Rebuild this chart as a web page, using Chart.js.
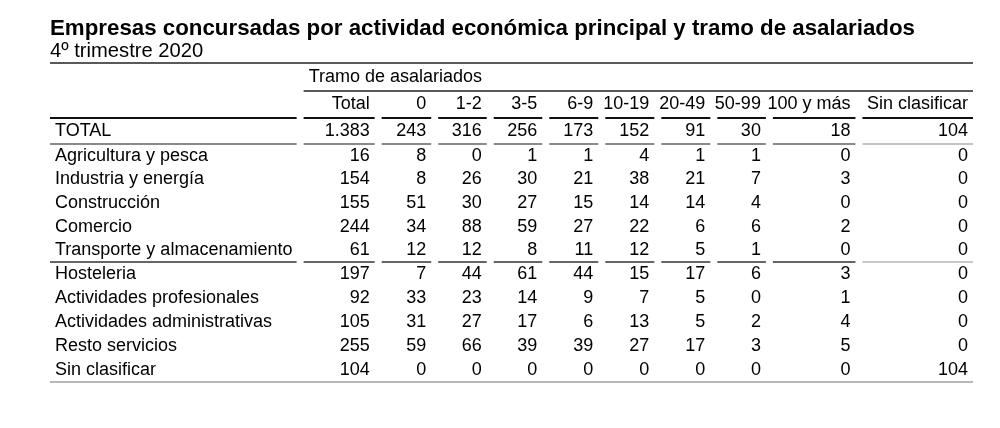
<!DOCTYPE html>
<html>
<head>
<meta charset="utf-8">
<script src="https://cdn.jsdelivr.net/npm/chart.js@4.4.1/dist/chart.umd.min.js"></script>
<style>
  body { margin: 0; background: #fff; }
  #caja { width: 1000px; height: 428px; }
</style>
</head>
<body>
<div id="caja"><canvas id="tabla"></canvas></div>
<script>
// datos de la tabla
var tramoTitulo = 'Tramo de asalariados';
var columnas = ['Total', '0', '1-2', '3-5', '6-9', '10-19', '20-49', '50-99', '100 y más', 'Sin clasificar'];
var actividades = ['TOTAL', 'Agricultura y pesca', 'Industria y energía', 'Construcción', 'Comercio',
  'Transporte y almacenamiento', 'Hosteleria', 'Actividades profesionales',
  'Actividades administrativas', 'Resto servicios', 'Sin clasificar'];

var total     = [1383, 16, 154, 155, 244, 61, 197, 92, 105, 255, 104];
var tramo0    = [243, 8, 8, 51, 34, 12, 7, 33, 31, 59, 0];
var tramo1_2  = [316, 0, 26, 30, 88, 12, 44, 23, 27, 66, 0];
var tramo3_5  = [256, 1, 30, 27, 59, 8, 61, 14, 17, 39, 0];
var tramo6_9  = [173, 1, 21, 15, 27, 11, 44, 9, 6, 39, 0];
var tramo10_19 = [152, 4, 38, 14, 22, 12, 15, 7, 13, 27, 0];
var tramo20_49 = [91, 1, 21, 14, 6, 5, 17, 5, 5, 17, 0];
var tramo50_99 = [30, 1, 7, 4, 6, 1, 6, 0, 2, 3, 0];
var tramo100  = [18, 0, 3, 0, 2, 0, 3, 1, 4, 5, 0];
var sinClasif = [104, 0, 0, 0, 0, 0, 0, 0, 0, 0, 104];

var valores = [total, tramo0, tramo1_2, tramo3_5, tramo6_9, tramo10_19, tramo20_49,
  tramo50_99, tramo100, sinClasif];

//======================================================
// maquetacion (anchos de columna y altos de fila, en unidades de escala)
var anchos = [250, 78, 56.5, 55.5, 55.5, 56, 56, 56, 55.5, 89.5, 117.5];
var altos = [28, 27, 26, 23.6, 23.6, 23.6, 23.6, 23.6, 24, 24, 24, 24, 24];

var bordesX = [0];
anchos.forEach(function (a, i) { bordesX.push(bordesX[i] + a); });
var bordesY = [0];
altos.forEach(function (a, i) { bordesY.push(bordesY[i] + a); });
function centroFila(i) { return (bordesY[i] + bordesY[i + 1]) / 2; }

function fmt(n) {
  return String(n).replace(/\B(?=(\d{3})+(?!\d))/g, '.');
}

var familia = '"Liberation Sans", Arial, sans-serif';
var fuente = '18px ' + familia;

var datasets = valores.map(function (serie, c) {
  return {
    label: columnas[c],
    data: serie.map(function (v, r) {
      return { x: bordesX[c + 2], y: centroFila(r + 2), v: v };
    }),
    pointRadius: 0,
    pointHoverRadius: 0
  };
});

function linea(ctx, x1, x2, y, color, ancho) {
  ctx.strokeStyle = color;
  ctx.lineWidth = ancho;
  ctx.beginPath();
  ctx.moveTo(x1, y);
  ctx.lineTo(x2, y);
  ctx.stroke();
}

function segmentos(ctx, sx, y, color, ancho, colorUltimo) {
  for (var c = 0; c < anchos.length; c++) {
    var x1 = sx.getPixelForValue(bordesX[c]) + (c === 0 ? 0 : 3.5);
    var x2 = sx.getPixelForValue(bordesX[c + 1]) - 3.5;
    var col = (c === anchos.length - 1 && colorUltimo) ? colorUltimo : color;
    linea(ctx, x1, x2, y, col, ancho);
  }
}

var dibujaTabla = {
  id: 'dibujaTabla',
  afterDatasetsDraw: function (chart) {
    var ctx = chart.ctx;
    var sx = chart.scales.x, sy = chart.scales.y;
    var izq = sx.getPixelForValue(0), der = sx.getPixelForValue(bordesX[bordesX.length - 1]) - 3.5;
    ctx.save();

    // lineas
    linea(ctx, izq, der, sy.getPixelForValue(bordesY[0]), '#222', 1.6);
    linea(ctx, sx.getPixelForValue(bordesX[1]) + 3.5, der, sy.getPixelForValue(bordesY[1]), '#222', 1.6);
    segmentos(ctx, sx, sy.getPixelForValue(bordesY[2]), '#111', 2);
    segmentos(ctx, sx, sy.getPixelForValue(bordesY[3]), '#8a8a8a', 2, '#c4c4c4');
    segmentos(ctx, sx, sy.getPixelForValue(bordesY[8]), '#333', 1.5, '#b4b4b4');
    linea(ctx, izq, der, sy.getPixelForValue(bordesY[bordesY.length - 1]), '#b8b8b8', 2);

    ctx.font = fuente;
    ctx.fillStyle = '#000';
    ctx.textBaseline = 'middle';

    // cabeceras
    ctx.textAlign = 'left';
    ctx.fillText(tramoTitulo, sx.getPixelForValue(bordesX[1]) + 8.5, sy.getPixelForValue(centroFila(0)));
    ctx.textAlign = 'right';
    columnas.forEach(function (t, c) {
      ctx.fillText(t, sx.getPixelForValue(bordesX[c + 2]) - 8.5, sy.getPixelForValue(centroFila(1)));
    });

    // actividades
    ctx.textAlign = 'left';
    actividades.forEach(function (t, r) {
      ctx.fillText(t, izq + 5, sy.getPixelForValue(centroFila(r + 2)));
    });

    // celdas
    ctx.textAlign = 'right';
    chart.data.datasets.forEach(function (ds, i) {
      var meta = chart.getDatasetMeta(i);
      meta.data.forEach(function (el, r) {
        ctx.fillText(fmt(ds.data[r].v), el.x - 8.5, el.y);
      });
    });
    ctx.restore();
  }
};

var config = {
  type: 'scatter',
  data: { datasets: datasets },
  options: {
    responsive: true,
    maintainAspectRatio: false,
    animation: false,
    events: [],
    layout: { padding: { left: 50, right: 23.5, top: 0, bottom: 46 } },
    scales: {
      x: { type: 'linear', display: false, min: 0, max: bordesX[bordesX.length - 1] },
      y: { type: 'linear', display: false, reverse: true, min: 0, max: bordesY[bordesY.length - 1] }
    },
    plugins: {
      legend: { display: false },
      tooltip: { enabled: false },
      title: {
        display: true,
        text: 'Empresas concursadas por actividad económica principal y tramo de asalariados',
        align: 'start',
        color: '#000',
        font: { family: familia, size: 22.3, weight: 'bold', lineHeight: 1 },
        padding: { top: 17.85, bottom: 0 }
      },
      subtitle: {
        display: true,
        text: '4º trimestre 2020',
        align: 'start',
        color: '#000',
        font: { family: familia, size: 20.2, lineHeight: 1 },
        padding: { top: 1.25, bottom: 1.4 }
      }
    }
  },
  plugins: [dibujaTabla]
};

var ctx1 = document.getElementById('tabla').getContext('2d');
var tabla = new Chart(ctx1, config);
</script>
</body>
</html>
